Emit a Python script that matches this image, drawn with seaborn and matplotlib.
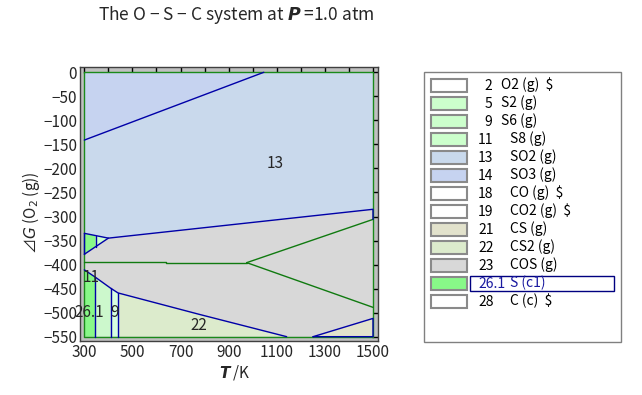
import numpy as np
import pandas as pd
import matplotlib
matplotlib.use("Agg")
import matplotlib.pyplot as plt
from matplotlib.patches import Rectangle
import seaborn as sns

# ---- region polygons (T / K, dG / kJ) ----
so3_T = [300, 1046, 300]
so3_G = [0, 0, -141]
so2_T = [300, 1046, 1500, 1500, 400, 300]
so2_G = [-141, 0, 0, -285, -345, -335]
cos_T = [300, 400, 1500, 1500, 1251, 1141, 440, 409, 345, 300]
cos_G = [-378.6, -345, -285, -512, -550, -550, -459, -449, -426, -411]
scl_top_T = [300, 347, 347, 300]
scl_top_G = [-335, -339.7, -362.8, -378.6]
s_top_T = [347, 400, 347]
s_top_G = [-339.7, -345, -362.8]
scl_bot_T = [300, 345, 345, 300]
scl_bot_G = [-411, -426, -550, -550]
s8_T = [345, 409, 409, 345]
s8_G = [-426, -449, -550, -550]
s6_T = [409, 440, 440, 409]
s6_G = [-449, -459, -550, -550]
cs2_T = [440, 1141, 440]
cs2_G = [-459, -550, -550]
cs_T = [1251, 1500, 1500]
cs_G = [-550, -512, -550]

# ---- boundary lines ----
blue_lines = [
    ([300, 1046], [-141, 0]),
    ([300, 400, 1500, 1500], [-335, -345, -285, -306]),
    ([300, 300], [-335, -378.6]),
    ([300, 400], [-378.6, -345]),
    ([347, 347], [-339.7, -362.8]),
    ([300, 345, 409, 440, 781, 1141], [-411, -426, -449, -459, -504, -550]),
    ([345, 345], [-426, -550]),
    ([409, 409], [-449, -550]),
    ([440, 440], [-459, -550]),
    ([1251, 1500, 1500, 1251], [-550, -512, -550, -550]),
]
green_lines = [
    ([300, 640, 640, 975], [-394.5, -394.5, -396, -396]),
    ([975, 1500], [-396, -306]),
    ([975, 1500], [-396, -489]),
]
frame_T = [300, 1500, 1500, 300, 300]
frame_G = [0, 0, -550, -550, 0]

# ---- region labels ----
lab_text = ["13", "11", "26.1", "9", "22"]
lab_T = [1092, 329, 322, 428, 774]
lab_G = [-189, -426, -500, -500, -526]

# ---- legend ----
leg_num = ["2", "5", "9", "11", "13", "14", "18", "19", "21", "22", "23", "26.1", "28"]
leg_name = ["O2 (g)  $", "S2 (g)", "S6 (g)", "S8 (g)", "SO2 (g)", "SO3 (g)", "CO (g)  $",
            "CO2 (g)  $", "CS (g)", "CS2 (g)", "COS (g)", "S (c1)", "C (c)  $"]
leg_color = ["#ffffff", "#ccffcc", "#ccffcc", "#ccffcc", "#c9d9ec", "#c6d3f0", "#ffffff",
             "#ffffff", "#e2e2cc", "#dcebcc", "#d8d8d8", "#88f888", "#ffffff"]

sns.set_style("white")
plt.rcParams["font.family"] = ["Noto Sans CJK JP", "DejaVu Sans"]
plt.rcParams["mathtext.fontset"] = "dejavusans"

fig = plt.figure(figsize=(6.42, 3.95), dpi=100)
ax = fig.add_axes([80 / 642, 1 - 341 / 395, 298.3 / 642, 273.7 / 395])
ax.set_facecolor("#c0c0c0")

fills = [
    (so3_T, so3_G, "#c6d3f0"), (so2_T, so2_G, "#c9d9ec"), (cos_T, cos_G, "#d8d8d8"),
    (scl_top_T, scl_top_G, "#88f888"), (s_top_T, s_top_G, "#ccffcc"),
    (scl_bot_T, scl_bot_G, "#88f888"), (s8_T, s8_G, "#ccf8cc"),
    (s6_T, s6_G, "#d8ffe0"), (cs2_T, cs2_G, "#dcebcc"), (cs_T, cs_G, "#e2e2cc"),
]
for t, g, c in fills:
    ax.fill(t, g, color=c, lw=0, zorder=1)

sns.lineplot(x=frame_T, y=frame_G, sort=False, estimator=None, color="#1a8a1a", lw=1, ax=ax, zorder=2)
for t, g in green_lines:
    sns.lineplot(x=t, y=g, sort=False, estimator=None, color="#107a10", lw=1, ax=ax, zorder=3)
for t, g in blue_lines:
    sns.lineplot(x=t, y=g, sort=False, estimator=None, color="#0000a8", lw=1, ax=ax, zorder=4)

for s, t, g in zip(lab_text, lab_T, lab_G):
    ax.text(t, g, s, fontsize=11, ha="center", va="center", zorder=5)

ax.set_xlim(282, 1522)
ax.set_ylim(-559, 10.4)
ax.set_xticks(range(300, 1501, 200))
ax.set_xticks(range(400, 1401, 200), minor=True)
ax.set_yticks(range(-550, 1, 50))
ax.tick_params(which="both", direction="in", length=4.3, width=1, color="black",
               top=True, right=True, labelsize=11, pad=2)
for sp in ax.spines.values():
    sp.set_color("#404040")
    sp.set_linewidth(1)
ax.set_xlabel("")
ax.set_ylabel("")

fig.text(31 / 642, 1 - 213 / 395, "⊿$G$ (O$_2$ (g))", rotation=90, fontsize=11,
         ha="center", va="center")
fig.text(235 / 642, 1 - 372 / 395, r"$\mathbfit{T}$ /K", fontsize=11, ha="center", va="center")
fig.text(236 / 642, 1 - 15 / 395, r"The O − S − C system at $\mathbfit{P}$ =1.0 atm",
         fontsize=12.5, ha="center", va="center")

# legend panel in pixel coordinates
lax = fig.add_axes([0, 0, 1, 1], facecolor="none")
lax.set_xlim(0, 642)
lax.set_ylim(395, 0)
lax.axis("off")
lax.add_patch(Rectangle((423.5, 71.5), 197, 270, fill=False, ec="#808080", lw=1))
for i, (n, name, c) in enumerate(zip(leg_num, leg_name, leg_color)):
    y = 85 + i * 18
    yb = y + 4.5
    lax.add_patch(Rectangle((431, y - 6.5), 35.5, 13, fc=c, ec="#8a8a8a", lw=1.5))
    tc = "#1a1aa0" if n == "26.1" else "black"
    if len(n) == 1:
        lax.text(492, yb, n, fontsize=10, ha="right", va="baseline", color=tc)
        lax.text(501, yb, name, fontsize=10, ha="left", va="baseline", color=tc)
    else:
        lax.text(478, yb, n, fontsize=10, ha="left", va="baseline", color=tc)
        lax.text(510, yb, name, fontsize=10, ha="left", va="baseline", color=tc)
    if n == "26.1":
        lax.add_patch(Rectangle((470, y - 7), 144, 14.5, fill=False, ec="#000080", lw=1))

fig.savefig("out.png", dpi=100)
